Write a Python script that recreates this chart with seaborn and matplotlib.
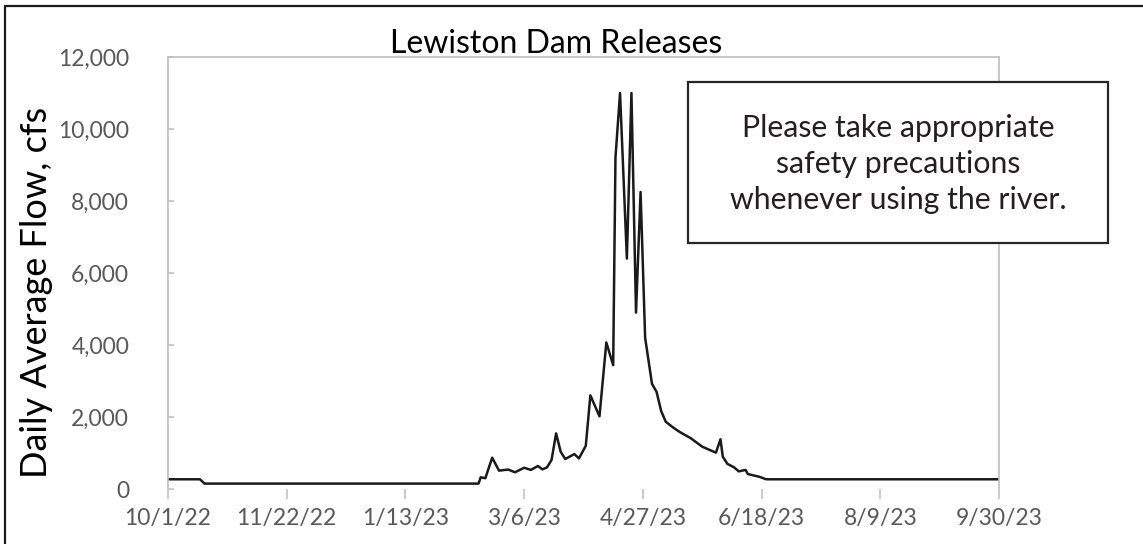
import pandas as pd
import numpy as np
import matplotlib
matplotlib.use("Agg")
import matplotlib.pyplot as plt
from matplotlib.patches import Rectangle
from matplotlib.lines import Line2D
from matplotlib.ticker import FuncFormatter
import seaborn as sns

# ── Data ──────────────────────────────────────────────────────────────────────
dates = [
    "2022-10-01", "2022-10-15", "2022-10-17", "2023-02-14", "2023-02-15",
    "2023-02-17", "2023-02-20", "2023-02-23", "2023-02-27", "2023-03-02",
    "2023-03-06", "2023-03-09", "2023-03-12", "2023-03-14", "2023-03-16",
    "2023-03-18", "2023-03-20", "2023-03-22", "2023-03-24", "2023-03-28",
    "2023-03-30", "2023-04-02", "2023-04-04", "2023-04-08", "2023-04-11",
    "2023-04-14", "2023-04-15", "2023-04-17", "2023-04-20", "2023-04-22",
    "2023-04-24", "2023-04-26", "2023-04-28", "2023-05-01", "2023-05-03",
    "2023-05-05", "2023-05-07", "2023-05-10", "2023-05-13", "2023-05-18",
    "2023-05-23", "2023-05-29", "2023-05-31", "2023-06-01", "2023-06-03",
    "2023-06-06", "2023-06-08", "2023-06-11", "2023-06-12", "2023-06-17",
    "2023-06-20", "2023-09-30",
]
flow_cfs = [
    270, 270, 150, 150, 325,
    300, 870, 510, 540, 465,
    590, 530, 640, 545, 600,
    805, 1545, 1035, 833, 970,
    850, 1200, 2600, 2020, 4070,
    3440, 9200, 11000, 6400, 11000,
    4900, 8250, 4200, 2920, 2700,
    2170, 1870, 1720, 1590, 1410,
    1175, 1010, 1380, 900, 700,
    600, 490, 530, 415, 340,
    270, 270,
]

tick_dates  = pd.date_range("2022-10-01", periods=8, freq="52D")
tick_labels = ["10/1/22", "11/22/22", "1/13/23", "3/6/23",
               "4/27/23", "6/18/23", "8/9/23", "9/30/23"]
y_ticks     = [0, 2000, 4000, 6000, 8000, 10000, 12000]

title_text = "Lewiston Dam Releases"
ylabel_text = "Daily Average Flow, cfs"
note_text = "Please take appropriate\nsafety precautions\nwhenever using the river."

df = pd.DataFrame({"date": pd.to_datetime(dates), "flow": flow_cfs})

# ── Style ─────────────────────────────────────────────────────────────────────
sns.set_style("white")
plt.rcParams["font.family"] = ["Lato", "DejaVu Sans"]

W, H = 1143, 544
fig = plt.figure(figsize=(W / 100, H / 100), dpi=100)
ax = fig.add_axes([168 / W, 1 - 489 / H, (999 - 168) / W, (489 - 57) / H])

sns.lineplot(data=df, x="date", y="flow", ax=ax, color="#1a1a1a", linewidth=1.8)

ax.set_xlim(tick_dates[0], tick_dates[-1])
ax.set_ylim(0, 12000)
ax.set_xticks(tick_dates)
ax.set_xticklabels(tick_labels)
ax.set_yticks(y_ticks)
ax.yaxis.set_major_formatter(FuncFormatter(lambda v, p: f"{int(v):,}"))
ax.set_xlabel("")
ax.set_ylabel("")

GRAY = "#bfbfbf"
for side in ["left", "top", "right"]:
    ax.spines[side].set_color(GRAY)
    ax.spines[side].set_linewidth(1.2)
ax.spines["bottom"].set_visible(False)

ax.tick_params(axis="x", direction="out", length=7.5, width=1.1, color=GRAY,
               labelsize=16.5, labelcolor="#595959", pad=6, bottom=True)
ax.tick_params(axis="y", direction="in", length=4, width=1.1, color=GRAY,
               labelsize=16.5, labelcolor="#595959", pad=28, left=True)

# title and y label placed like the original
fig.text(556 / W, 1 - 53 / H, title_text, ha="center", va="baseline",
         fontsize=23, color="black")
fig.text(37 / W, 1 - 292 / H, ylabel_text, ha="center", va="center",
         rotation=90, fontsize=26, color="black")

# note box
bx0, bx1, by0, by1 = 688, 1108, 82, 243
fig.add_artist(Rectangle((bx0 / W, 1 - by1 / H), (bx1 - bx0) / W, (by1 - by0) / H,
                         transform=fig.transFigure, facecolor="white",
                         edgecolor="#262626", linewidth=1.6))
fig.text((bx0 + bx1) / 2 / W, 1 - 164 / H, note_text, ha="center", va="center",
         fontsize=21.8, color="#231f20", linespacing=1.35)

# outer frame (top and left only, as in the reference)
fig.add_artist(Line2D([5 / W, 1], [1 - 6 / H, 1 - 6 / H], transform=fig.transFigure,
                      color="#1a1a1a", linewidth=1.6))
fig.add_artist(Line2D([5 / W, 5 / W], [0, 1 - 6 / H], transform=fig.transFigure,
                      color="#1a1a1a", linewidth=1.6))

fig.savefig("out.png", dpi=100)
